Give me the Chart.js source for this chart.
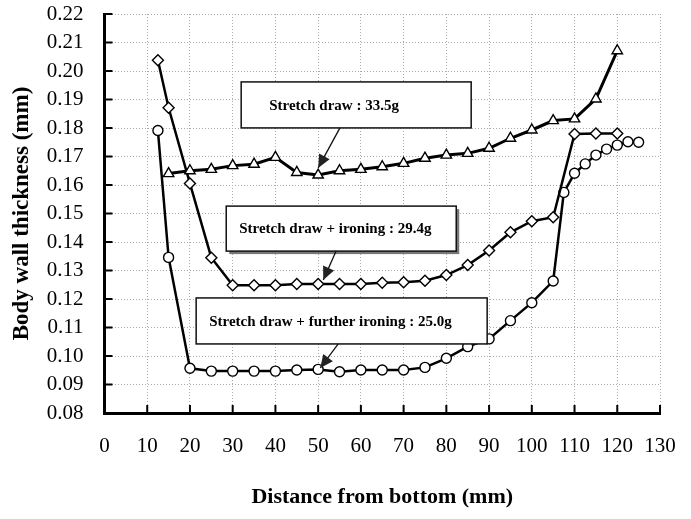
<!DOCTYPE html>
<html>
<head>
<meta charset="utf-8">
<title>Body wall thickness</title>
<script src="https://cdn.jsdelivr.net/npm/chart.js@4/dist/chart.umd.min.js"></script>
<style>
    body { margin: 0; background: #fff; }
    #wrap { width: 691px; height: 519px; }
</style>
</head>
<body>
<div id="wrap"><canvas id="thicknessChart" width="691" height="519"></canvas></div>
<script>
// Wall thickness along the can body for three forming routes.

const drawDistance = [15, 20, 25, 30, 35, 40, 45, 50, 55, 60, 65, 70, 75, 80, 85, 90, 95, 100, 105, 110, 115, 120];
const drawThickness = [0.164, 0.165, 0.1655, 0.1668, 0.1673, 0.1697, 0.1644, 0.1635, 0.165, 0.1655, 0.1664, 0.1676,
    0.1694, 0.1705, 0.1711, 0.1729, 0.1764, 0.1793, 0.1826, 0.1832, 0.1902, 0.2071];

const ironDistance = [12.5, 15, 20, 25, 30, 35, 40, 45, 50, 55, 60, 65, 70, 75, 80, 85, 90, 95, 100, 105, 110, 115, 120];
const ironThickness = [0.2038, 0.1871, 0.1605, 0.1345, 0.1248, 0.1248, 0.1248, 0.1253, 0.1253, 0.1253, 0.1253, 0.1257,
    0.1259, 0.1264, 0.1284, 0.1319, 0.137, 0.1434, 0.1473, 0.1487, 0.1779, 0.1781, 0.1781];

const furtherDistance = [12.5, 15, 20, 25, 30, 35, 40, 45, 50, 55, 60, 65, 70, 75, 80, 85, 90, 95, 100, 105,
    107.5, 110, 112.5, 115, 117.5, 120, 122.5, 125];
const furtherThickness = [0.1791, 0.1346, 0.0957, 0.0947, 0.0947, 0.0947, 0.0947, 0.0951, 0.0953, 0.0945, 0.0951, 0.0951,
    0.0951, 0.096, 0.0992, 0.1033, 0.106, 0.1124, 0.1187, 0.1263, 0.1574, 0.1641, 0.1674, 0.1705, 0.1726, 0.174, 0.1752, 0.175];

const seriesLabels = ['Stretch draw : 33.5g', 'Stretch draw + ironing : 29.4g', 'Stretch draw + further ironing : 25.0g'];

const FONT = 'Liberation Serif, Times New Roman, serif';

function toPoints(xs, ys) {
    return xs.map((x, i) => ({ x: x, y: ys[i] }));
}

// labelled boxes with an arrow to the curve (box centre and arrow ends in data units)
const callouts = [
    { text: seriesLabels[0], cx: 58.9, cy: 0.1881, w: 230, h: 46, pad: 28, tailX: 55.1, tipX: 50, tipY: 0.166, shadow: false },
    { text: seriesLabels[1], cx: 55.4, cy: 0.1447, w: 230, h: 45, pad: 13, tailX: 54.2, tipX: 51.2, tipY: 0.1267, shadow: true },
    { text: seriesLabels[2], cx: 55.5, cy: 0.1123, w: 291, h: 46, pad: 13, tailX: 54.7, tipX: 50.5, tipY: 0.0958, shadow: false }
];

const calloutPlugin = {
    id: 'callouts',
    afterDatasetsDraw(chart) {
        const ctx = chart.ctx;
        const xs = chart.scales.x;
        const ys = chart.scales.y;
        ctx.save();
        callouts.forEach(c => {
            const cx = xs.getPixelForValue(c.cx);
            const cy = ys.getPixelForValue(c.cy);
            const left = cx - c.w / 2;
            const top = cy - c.h / 2;

            if (c.shadow) {
                ctx.fillStyle = '#777';
                ctx.fillRect(left + 3, top + 3, c.w, c.h);
            }
            ctx.fillStyle = '#fff';
            ctx.fillRect(left, top, c.w, c.h);
            ctx.strokeStyle = '#111';
            ctx.lineWidth = 1.5;
            ctx.strokeRect(left, top, c.w, c.h);

            ctx.fillStyle = '#000';
            ctx.font = 'bold 15px ' + FONT;
            ctx.textAlign = 'left';
            ctx.textBaseline = 'middle';
            ctx.fillText(c.text, left + c.pad, cy + 1);

            // arrow
            const x0 = xs.getPixelForValue(c.tailX);
            const y0 = top + c.h;
            const x1 = xs.getPixelForValue(c.tipX);
            const y1 = ys.getPixelForValue(c.tipY);
            const ang = Math.atan2(y1 - y0, x1 - x0);
            ctx.beginPath();
            ctx.moveTo(x0, y0);
            ctx.lineTo(x1, y1);
            ctx.lineWidth = 1.3;
            ctx.stroke();
            const len = 13, half = 6;
            const bx = x1 - len * Math.cos(ang);
            const by = y1 - len * Math.sin(ang);
            ctx.beginPath();
            ctx.moveTo(x1, y1);
            ctx.lineTo(bx + half * Math.sin(ang), by - half * Math.cos(ang));
            ctx.lineTo(bx - half * Math.sin(ang), by + half * Math.cos(ang));
            ctx.closePath();
            ctx.fillStyle = '#222';
            ctx.fill();
        });
        ctx.restore();
    },
    afterDraw(chart) {
        // inward tick marks on both axes
        const ctx = chart.ctx;
        const xs = chart.scales.x;
        const ys = chart.scales.y;
        const area = chart.chartArea;
        ctx.save();
        ctx.strokeStyle = '#000';
        ctx.lineWidth = 2;
        ctx.beginPath();
        ys.ticks.forEach(t => {
            const py = ys.getPixelForValue(t.value);
            ctx.moveTo(area.left, py);
            ctx.lineTo(area.left + 8, py);
        });
        xs.ticks.forEach(t => {
            const px = xs.getPixelForValue(t.value);
            ctx.moveTo(px, area.bottom);
            ctx.lineTo(px, area.bottom - 8);
        });
        ctx.stroke();
        ctx.restore();
    }
};

function seriesStyle(points, shape, radius, width) {
    return {
        data: points,
        borderColor: '#000',
        borderWidth: width,
        pointStyle: shape,
        pointRadius: radius,
        pointBackgroundColor: '#fff',
        pointBorderColor: '#000',
        pointBorderWidth: 1.4,
        tension: 0,
        fill: false
    };
}

const ctx = document.getElementById('thicknessChart').getContext('2d');
new Chart(ctx, {
    type: 'line',
    data: {
        datasets: [
            Object.assign({ label: seriesLabels[0] }, seriesStyle(toPoints(drawDistance, drawThickness), 'triangle', 6, 3)),
            Object.assign({ label: seriesLabels[1] }, seriesStyle(toPoints(ironDistance, ironThickness), 'rectRot', 5.5, 2.5)),
            Object.assign({ label: seriesLabels[2] }, seriesStyle(toPoints(furtherDistance, furtherThickness), 'circle', 5, 2.5))
        ]
    },
    options: {
        responsive: false,
        animation: false,
        layout: { padding: { top: 14, right: 31, left: 0, bottom: 0 } },
        plugins: {
            legend: { display: false },
            tooltip: { enabled: false }
        },
        scales: {
            x: {
                type: 'linear',
                min: 0,
                max: 130,
                afterFit: scale => {
                    scale.height = 106;
                    scale.paddingLeft = 0;
                    scale.paddingRight = 0;
                },
                ticks: {
                    stepSize: 10,
                    padding: 21,
                    color: '#000',
                    maxRotation: 0,
                    font: { family: FONT, size: 21 }
                },
                grid: { color: '#aaa', drawTicks: false, lineWidth: 1 },
                border: { display: true, color: '#000', width: 3, dash: [1, 2] },
                title: {
                    display: true,
                    text: 'Distance from bottom (mm)',
                    color: '#000',
                    padding: { top: 10, bottom: 8 },
                    font: { family: FONT, size: 22, weight: 'bold' }
                }
            },
            y: {
                type: 'linear',
                min: 0.08,
                max: 0.22,
                afterFit: scale => {
                    scale.width = 104.5;
                    scale.paddingTop = 0;
                    scale.paddingBottom = 0;
                },
                ticks: {
                    stepSize: 0.01,
                    padding: 21,
                    color: '#000',
                    font: { family: FONT, size: 21 },
                    callback: v => v.toFixed(2)
                },
                grid: { color: '#aaa', drawTicks: false, lineWidth: 1 },
                border: { display: true, color: '#000', width: 3, dash: [1, 2] },
                title: {
                    display: true,
                    text: 'Body wall thickness (mm)',
                    color: '#000',
                    padding: { top: 8, bottom: 0 },
                    font: { family: FONT, size: 23, weight: 'bold' }
                }
            }
        }
    },
    plugins: [calloutPlugin]
});
</script>
</body>
</html>
